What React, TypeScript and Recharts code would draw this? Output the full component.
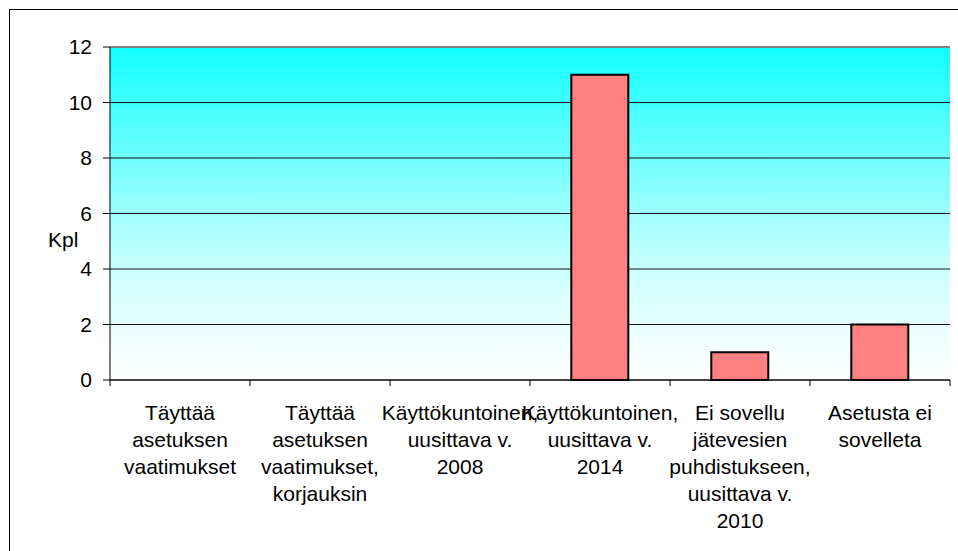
import { BarChart, Bar, XAxis, YAxis, CartesianGrid, ReferenceLine, Cell } from 'recharts';

const categories = [
  'Täyttää\nasetuksen\nvaatimukset',
  'Täyttää\nasetuksen\nvaatimukset,\nkorjauksin',
  'Käyttökuntoinen,\nuusittava v.\n2008',
  'Käyttökuntoinen,\nuusittava v.\n2014',
  'Ei sovellu\njätevesien\npuhdistukseen,\nuusittava v.\n2010',
  'Asetusta ei\nsovelleta',
];
const counts = [0, 0, 0, 11, 1, 2];
const yTicks = [0, 2, 4, 6, 8, 10, 12];

const data = categories.map((name, i) => ({ name, value: counts[i] }));

const FONT = '"Liberation Sans", Arial, sans-serif';

// category labels, wrapped like the original, with tick marks on band edges
const CategoryTick = (props: any) => {
  const { x, y, payload, index } = props;
  const half = payload?.offset ?? 70;
  const lines = String(payload.value).split('\n');
  const last = index === categories.length - 1;
  return (
    <g>
      <line x1={x - half} x2={x - half} y1={y} y2={y + 6} stroke="#000" />
      {last && <line x1={x + half} x2={x + half} y1={y} y2={y + 6} stroke="#000" />}
      <text x={x} y={y + 40} textAnchor="middle" fontSize={21} fontFamily={FONT} fill="#000">
        {lines.map((l, i) => (
          <tspan key={i} x={x} dy={i === 0 ? 0 : 27}>{l}</tspan>
        ))}
      </text>
    </g>
  );
};

const KplLabel = (props: any) => {
  const { viewBox } = props;
  return (
    <text x={viewBox.x + 38} y={viewBox.y + 200} fontSize={21} fontFamily={FONT} fill="#000">
      Kpl
    </text>
  );
};

export default function App() {
  return (
    <div
      style={{
        position: 'absolute',
        left: 9,
        top: 9,
        width: 949,
        height: 542,
        borderTop: '1px solid #000',
        borderLeft: '1px solid #000',
        boxSizing: 'border-box',
        background: '#fff',
      }}
    >
      <BarChart
        width={948}
        height={541}
        data={data}
        margin={{ top: 37, right: 8, left: 0, bottom: 0 }}
        barCategoryGap="29.5%"
      >
        <defs>
          <linearGradient id="plotBg" x1="0" y1="0" x2="0" y2="1">
            <stop offset="0%" stopColor="#10ffff" />
            <stop offset="28%" stopColor="#60ffff" />
            <stop offset="56%" stopColor="#b0ffff" />
            <stop offset="70%" stopColor="#d2ffff" />
            <stop offset="90%" stopColor="#f2ffff" />
            <stop offset="100%" stopColor="#ffffff" />
          </linearGradient>
        </defs>
        <CartesianGrid
          vertical={false}
          stroke="#111"
          fill="url(#plotBg)"
          fillOpacity={1}
        />
        <XAxis
          dataKey="name"
          interval={0}
          height={171}
          tickSize={0}
          tickMargin={0}
          tickLine={false}
          axisLine={{ stroke: '#000' }}
          tick={<CategoryTick />}
        />
        <YAxis
          domain={[0, 12]}
          ticks={yTicks}
          width={100}
          tickSize={7}
          tickMargin={11}
          axisLine={{ stroke: '#000' }}
          tickLine={{ stroke: '#000' }}
          tick={{ fontSize: 21, fontFamily: FONT, fill: '#000' }}
          label={<KplLabel />}
        />
        <YAxis
          yAxisId="r"
          orientation="right"
          width={0}
          domain={[0, 12]}
          tick={false}
          tickLine={false}
          axisLine={{ stroke: '#808080', strokeWidth: 2 }}
        />
        <ReferenceLine y={12} stroke="#808080" strokeWidth={2} />
        <Bar dataKey="value" fill="#ff8080" strokeWidth={2} isAnimationActive={false}>
          {counts.map((v, i) => (
            <Cell key={i} stroke={v > 0 ? '#000' : 'none'} />
          ))}
        </Bar>
      </BarChart>
    </div>
  );
}
